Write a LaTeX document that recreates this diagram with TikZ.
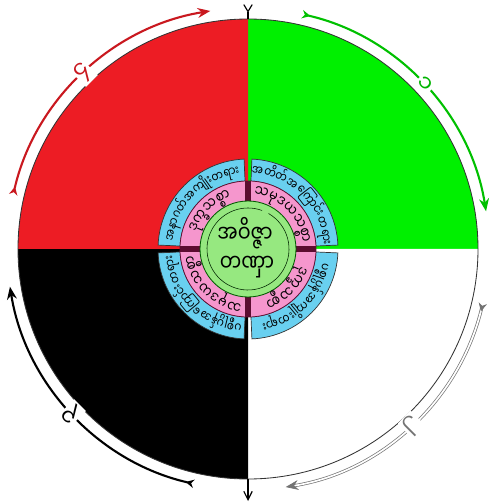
\documentclass[tikz,border=0pt]{standalone}
\usepackage{fontspec}
\newfontfamily\mmfont[Script=Myanmar]{Noto Sans Myanmar UI}
\usetikzlibrary{arrows.meta}

\definecolor{wheelred}{RGB}{237,28,36}
\definecolor{wheelgreen}{RGB}{0,240,0}
\definecolor{ringblue}{RGB}{105,208,240}
\definecolor{ringpink}{RGB}{245,150,205}
\definecolor{hubgreen}{RGB}{150,232,128}
\definecolor{crossmaroon}{RGB}{92,12,48}

\newcommand{\bluefont}{\mmfont\fontsize{9.3}{11}\selectfont}
\newcommand{\pinkfont}{\mmfont\fontsize{11}{13}\selectfont}
\newcommand{\narrow}[1]{\scalebox{0.8}[1]{#1}}

% syllable widths, measured before the picture
\newsavebox{\sylbox}
\makeatletter
\newcommand{\arcprep}[3]{% #1 name, #2 font, #3 syllables
  \gdef\arc@list{}\gdef\arc@sum{0}%
  \@for\syl:=#3\do{%
    \sbox{\sylbox}{#2\narrow{\syl}}%
    \pgfmathparse{\arc@sum+\the\wd\sylbox}\xdef\arc@sum{\pgfmathresult}%
    \ifx\arc@list\@empty
      \xdef\arc@list{\syl/\the\wd\sylbox}%
    \else
      \xdef\arc@list{\arc@list,\syl/\the\wd\sylbox}%
    \fi}%
  \global\expandafter\let\csname arcl@#1\endcsname\arc@list
  \global\expandafter\let\csname arcs@#1\endcsname\arc@sum}
% syllables set round an arc, clockwise, tops outward
\newcommand{\arcword}[4]{% #1 name, #2 font, #3 radius, #4 centre angle
  \pgfmathsetmacro{\arcdeg}{57.29578/(#3*0.70866)}%
  \pgfmathparse{#4+\csname arcs@#1\endcsname*\arcdeg/2}\xdef\arcpos{\pgfmathresult}%
  \edef\arclist{\csname arcl@#1\endcsname}%
  \foreach \s/\w [count=\i] in \arclist {%
    \pgfmathsetmacro{\sylang}{\arcpos-\w*\arcdeg/2}%
    \node[font=#2, anchor=base, inner sep=0pt, rotate=\sylang-90] (#1-\i) at (\sylang:#3) {\narrow{\s}};
    \pgfmathparse{\arcpos-\w*\arcdeg}\xdef\arcpos{\pgfmathresult}%
  }}
\makeatother

\AtBeginDocument{%
  \arcprep{pastcause}{\bluefont}{အ,တိတ်,အ,ကြောင်း,တ,ရား}%
  \arcprep{noweffect}{\bluefont}{ပ,စ္စု,ပ္ပန်,အ,ကျိုး,တ,ရား}%
  \arcprep{nowcause}{\bluefont}{ပ,စ္စု,ပ္ပန်,အ,ကြောင်း,တ,ရား}%
  \arcprep{futeffect}{\bluefont}{အ,နာ,ဂတ်,အ,ကျိုး,တ,ရား}%
  \arcprep{samudaya}{\pinkfont}{သ,မု,ဒ,ယ,သ,စ္စာ}%
  \arcprep{dukkha}{\pinkfont}{ဒု,က္ခ,သ,စ္စာ}%
}

\begin{document}
\begin{tikzpicture}[x=0.025cm, y=0.025cm,
    cyclearc/.style={line width=1.5pt, {Stealth[reversed,length=6pt,width=6pt]}-{Stealth[length=9pt,width=7pt]}},
    greenarc/.style={draw=wheelgreen!80!black},
    whitearc/.style={draw=black!55, double=white, double distance=1.2pt, line width=0.5pt},
    blackarc/.style={draw=black},
    redarc/.style={draw=wheelred!85!black},
    numlabel/.style={font=\mmfont\fontsize{16}{18}\selectfont, fill=white, inner sep=1pt},
    ringseg/.style={fill=ringblue, draw=black!80, line width=0.5pt},
    hubword/.style={font=\mmfont\fontsize{17}{19}\selectfont}]
  % frame
  \useasboundingbox (-248,-255) rectangle (242,249);

  % four quarters of the wheel
  \fill[wheelgreen] (0,0) -- (90:230) arc[start angle=90, end angle=0, radius=230] -- cycle;
  \fill[white] (0,0) -- (0:230) arc[start angle=0, end angle=-90, radius=230] -- cycle;
  \fill[black] (0,0) -- (-90:230) arc[start angle=-90, end angle=-180, radius=230] -- cycle;
  \fill[wheelred] (0,0) -- (180:230) arc[start angle=180, end angle=90, radius=230] -- cycle;
  \draw[black!80, line width=0.6pt] (0,0) circle[radius=230];

  % arrow stubs on the vertical axis
  \coordinate (top) at (0,245);
  \coordinate (rimtop) at (0,230);
  \coordinate (rimbottom) at (0,-230);
  \coordinate (bottom) at (0,-252);
  \draw[line width=0.8pt, {Straight Barb[reversed,length=5pt,width=6pt]}-] (top) -- (rimtop);
  \draw[line width=0.8pt, -{Straight Barb[length=6pt,width=6pt]}] (rimbottom) -- (bottom);

  % outer cycle arrows with numbers
  \foreach \q/\arcstyle/\numcol/\num in {0/greenarc/wheelgreen!75!black/၁, 270/whitearc/black!55/၂, 180/blackarc/black/၃, 90/redarc/wheelred!85!black/၄}
    \draw[cyclearc, \arcstyle] ({\q+77}:241) arc[start angle=\q+77, end angle=\q+9, radius=241]
      node[numlabel, text=\numcol, rotate=\q-45, pos=0.5] (num\q) {\num};

  % blue ring segments
  \foreach \q in {0,90,180,270}
    \draw[ringseg] ({\q+2.5}:90) arc[start angle=\q+2.5, end angle=\q+87.5, radius=90]
      -- ({\q+87.5}:68) arc[start angle=\q+87.5, end angle=\q+2.5, radius=68] -- cycle;

  % pink ring and cross
  \draw[fill=ringpink, draw=crossmaroon, line width=0.5pt] (0,0) circle[radius=68];
  \foreach \q in {0,90,180,270}
    \draw[crossmaroon, line width=4pt] (\q:47) -- (\q:68);

  % green hub
  \draw[fill=hubgreen, draw=green!35!black, line width=0.6pt] (0,0) circle[radius=48];
  \draw[green!15!black, line width=0.4pt] (60:41) arc[start angle=60, end angle=-290, radius=41];
  \node[hubword] (avijja) at (-3,16) {\narrow{အဝိဇ္ဇာ}};
  \node[hubword] (tanha) at (-1,-18) {\narrow{တဏှာ}};

  % words in the blue ring
  \arcword{pastcause}{\bluefont}{74}{45}
  \arcword{noweffect}{\bluefont}{74}{-45}
  \arcword{nowcause}{\bluefont}{74}{225}
  \arcword{futeffect}{\bluefont}{74}{135}

  % words in the pink ring
  \arcword{samudaya}{\pinkfont}{53}{45}
  \arcword{dukkha}{\pinkfont}{53}{-45}
  \arcword{samudaya}{\pinkfont}{53}{225}
  \arcword{dukkha}{\pinkfont}{53}{135}
\end{tikzpicture}
\end{document}
